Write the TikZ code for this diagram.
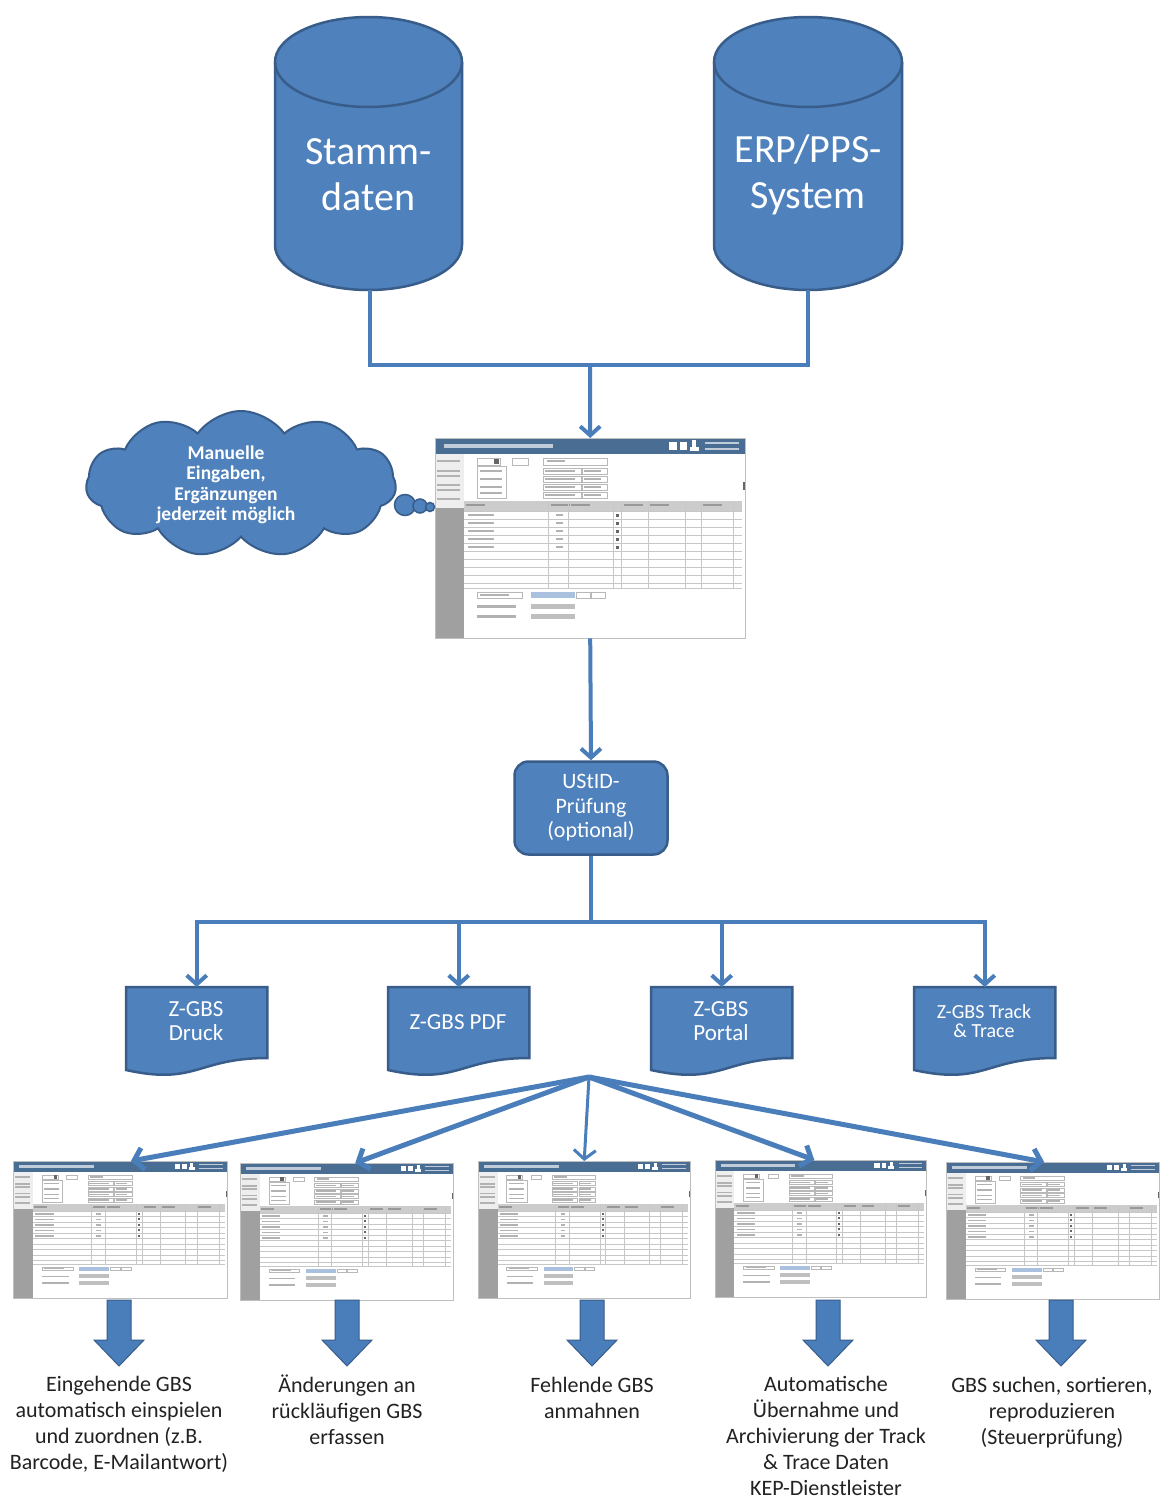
\documentclass[tikz,border=0pt]{standalone}
\usepackage{fontspec}
\setmainfont{Carlito}
\usetikzlibrary{arrows.meta,shapes.symbols,calc}
\definecolor{boxblue}{HTML}{4F81BD}
\definecolor{boxedge}{HTML}{385D8A}
\definecolor{linkblue}{HTML}{4A7EBB}
\definecolor{hdrblue}{HTML}{4A6D94}
\definecolor{sidegray}{HTML}{A0A0A0}
\definecolor{sidelight}{HTML}{EEEEEE}
\definecolor{txtgray}{HTML}{222222}
\definecolor{btnblue}{HTML}{A9C0DF}
\tikzset{
  conn/.style={draw=linkblue, line width=4pt},
  connarrow/.style={conn, -{Straight Barb[length=9pt,width=20pt]}},
  fanarrow/.style={draw=linkblue, line width=5pt, -{Straight Barb[length=9pt,width=22pt]}},
  cylstyle/.style={fill=boxblue, draw=boxedge, line width=2.5pt},
  cyltext/.style={text=white, font=\fontsize{40}{46}\selectfont, align=center},
  ustbox/.style={rectangle, rounded corners=14pt, fill=boxblue, draw=boxedge, line width=2.5pt,
     minimum width=153pt, minimum height=93pt, inner sep=0pt, text=white, align=center,
     font=\fontsize{22}{24.5}\selectfont},
  cloudstyle/.style={cloud, cloud puffs=11, cloud puff arc=110, aspect=2.1, fill=boxblue,
     draw=boxedge, line width=2pt, minimum width=310pt, minimum height=146pt, inner sep=0pt},
  bubble/.style={circle, fill=boxblue, draw=boxedge, line width=1.5pt, inner sep=0pt},
  cloudtext/.style={text=white, align=center, font=\bfseries\fontsize{19.5}{20.5}\selectfont},
  docnode/.style={rectangle, minimum height=85pt, inner sep=0pt},
  docstyle/.style={fill=boxblue, draw=boxedge, line width=2.5pt},
  doctext/.style={text=white, align=center, font=\fontsize{23}{23.5}\selectfont},
  doctextsmall/.style={text=white, align=center, font=\fontsize{20}{19}\selectfont},
  blockar/.style={fill=linkblue, draw=boxedge, line width=1pt},
  bottomtext/.style={text=txtgray, align=center, font=\fontsize{22}{26}\selectfont},
  shotnode/.style={rectangle, inner sep=0pt},
  shotborder/.style={draw=black!25, line width=0.6pt},
  fld/.style={draw=black!28, line width=0.35pt},
  txtbar/.style={fill=black!30},
  txtdark/.style={fill=black!60},
  mkgrid/.style={draw=black!22, line width=0.35pt},
  tblhead/.style={fill=black!20},
  btngray/.style={fill=black!25}
}
\newcommand\mockup[5]{%
  \node[shotnode, minimum width=#4pt, minimum height=#5pt, anchor=north west] (#1) at (#2,#3) {};
  \begin{scope}[shift={(#2,#3)}, x=#4pt, y=-#5pt]
    \fill[white] (0,0) rectangle (1,1);
    \fill[hdrblue] (0,0) rectangle (1,0.08);
    \fill[white!65!hdrblue] (0.03,0.032) rectangle (0.38,0.048);
    \fill[white] (0.755,0.022) rectangle (0.78,0.058);
    \fill[white] (0.79,0.022) rectangle (0.812,0.058);
    \fill[white] (0.822,0.045) rectangle (0.85,0.064);
    \fill[white] (0.829,0.012) rectangle (0.843,0.045);
    \fill[white!65!hdrblue] (0.87,0.02) rectangle (0.98,0.032);
    \fill[white!65!hdrblue] (0.87,0.048) rectangle (0.98,0.06);
    \fill[sidelight] (0,0.08) rectangle (0.092,0.35);
    \fill[sidegray] (0,0.35) rectangle (0.092,1);
    \foreach \vv in {0.11,0.16,0.185,0.23,0.255,0.3}
      \fill[txtbar] (0.008,\vv) rectangle (0.08,\vv+0.012);
    \draw[fld] (0.135,0.1) rectangle (0.21,0.135);
    \fill[txtdark] (0.19,0.105) rectangle (0.205,0.13);
    \draw[fld] (0.135,0.14) rectangle (0.23,0.3);
    \foreach \vv in {0.16,0.2,0.24,0.27}
      \fill[txtbar] (0.145,\vv) rectangle (0.215,\vv+0.01);
    \draw[fld] (0.25,0.1) rectangle (0.3,0.135);
    \draw[fld] (0.35,0.1) rectangle (0.555,0.135);
    \fill[txtbar] (0.36,0.112) rectangle (0.42,0.122);
    \foreach \vv in {0.15,0.19,0.23,0.27} {
      \draw[fld] (0.35,\vv) rectangle (0.47,\vv+0.03);
      \draw[fld] (0.475,\vv) rectangle (0.555,\vv+0.03);
      \fill[txtbar] (0.355,\vv+0.01) rectangle (0.45,\vv+0.02);
      \fill[txtbar] (0.48,\vv+0.01) rectangle (0.535,\vv+0.02);
    }
    \fill[tblhead] (0.092,0.315) rectangle (0.99,0.365);
    \foreach \uu in {0.1,0.375,0.44,0.61,0.695,0.865}
      \fill[black!40] (\uu,0.33) rectangle (\uu+0.06,0.342);
    \foreach \ii in {0,...,9}
      \draw[mkgrid] (0.092,0.365+\ii*0.04) -- (0.99,0.365+\ii*0.04);
    \foreach \uu in {0.366,0.43,0.575,0.602,0.688,0.806,0.86,0.962}
      \draw[mkgrid] (\uu,0.315) -- (\uu,0.75);
    \foreach \ii in {0,...,4} {
      \fill[txtbar] (0.105,0.38+\ii*0.04) rectangle (0.19,0.392+\ii*0.04);
      \fill[txtbar] (0.39,0.38+\ii*0.04) rectangle (0.412,0.392+\ii*0.04);
      \fill[txtdark] (0.583,0.378+\ii*0.04) rectangle (0.593,0.393+\ii*0.04);
    }
    \draw[mkgrid] (0.092,0.75) -- (0.99,0.75);
    \draw[fld] (0.135,0.772) rectangle (0.28,0.8);
    \fill[txtbar] (0.145,0.781) rectangle (0.24,0.791);
    \fill[btnblue] (0.31,0.772) rectangle (0.45,0.8);
    \draw[fld] (0.455,0.772) rectangle (0.5,0.8);
    \draw[fld] (0.505,0.772) rectangle (0.55,0.8);
    \fill[txtbar] (0.135,0.836) rectangle (0.26,0.848);
    \fill[btngray] (0.31,0.828) rectangle (0.45,0.856);
    \fill[txtbar] (0.135,0.886) rectangle (0.26,0.898);
    \fill[btngray] (0.31,0.878) rectangle (0.45,0.906);
    \fill[txtdark] (0.993,0.22) rectangle (1,0.26);
  \end{scope}
  \draw[shotborder] (#1.north west) rectangle (#1.south east);
}
\newcommand\docshape[4]{%
  \node[docnode, minimum width=#3pt, anchor=north west] (#1) at (#2,987) {};
  \filldraw[docstyle] (#1.north west) -- (#1.north east) -- ++(0,71)
    .. controls +(-#3/2,0) and +(#3/2,15.5) .. ($(#1.north west)+(0,83)$) -- cycle;
}
\newcommand\blockarrow[2]{%
  \coordinate (#1) at (#2,1300);
  \filldraw[blockar] ($(#1)+(-12,0)$) -- ++(24,0) -- ++(0,40) -- ++(13,0)
    -- ($(#1)+(0,66)$) -- ($(#1)+(-25,40)$) -- ++(13,0) -- cycle;
}
\begin{document}
\begin{tikzpicture}[x=1pt, y=-1pt]
\useasboundingbox (0,0) rectangle (1161,1499);
\fill[white] (0,0) rectangle (1161,1499);

% cylinders
\filldraw[cylstyle] (275,62) -- (275,245) arc[start angle=180, end angle=0, x radius=93.5, y radius=45]
  -- (462,62) arc[start angle=0, end angle=-180, x radius=93.5, y radius=45] -- cycle;
\draw[cylstyle, fill=none] (275,62) arc[start angle=180, end angle=0, x radius=93.5, y radius=45];
\node[cyltext] (stamm) at (368.5,175) {Stamm-\\daten};
\coordinate (stammB) at (370,290);

\filldraw[cylstyle] (714,62) -- (714,245) arc[start angle=180, end angle=0, x radius=94, y radius=45]
  -- (902,62) arc[start angle=0, end angle=-180, x radius=94, y radius=45] -- cycle;
\draw[cylstyle, fill=none] (714,62) arc[start angle=180, end angle=0, x radius=94, y radius=45];
\node[cyltext] (erp) at (808,175) {ERP/PPS-\\System};
\coordinate (erpB) at (808,290);

% main screenshot
\mockup{shot}{435}{438}{310}{200}

\coordinate (join) at (590,365);
\draw[conn] (stammB) |- (join) -| (erpB);
\draw[connarrow] (join) -- (shot.north);

% cloud
\node[cloudstyle] (cloud) at (241,484) {};
\node[bubble, minimum size=21pt] (b1) at (405,505) {};
\node[bubble, minimum size=14pt] (b2) at (420,506) {};
\node[bubble, minimum size=9pt] (b3) at (430,507) {};
\node[cloudtext] (cloudtxt) at (226,485) {Manuelle\\Eingaben,\\Ergänzungen\\jederzeit möglich};

% UStID
\node[ustbox] (ust) at (591,808) {UStID-\\Prüfung\\(optional)};
\draw[connarrow] (shot.south) -- (ust.north);

% documents
\docshape{druck}{126}{141}{}
\docshape{pdf}{388}{141}{}
\docshape{portal}{651}{141}{}
\docshape{track}{914}{141}{}
\node[doctext] (drucktxt) at ($(druck.north west)+(70,34)$) {Z-GBS\\Druck};
\node[doctext] (pdftxt) at ($(pdf.north west)+(70,35)$) {Z-GBS PDF};
\node[doctext] (portaltxt) at ($(portal.north west)+(70,34)$) {Z-GBS\\Portal};
\node[doctextsmall] (tracktxt) at ($(track.north west)+(70,34)$) {Z-GBS Track\\\& Trace};

\coordinate (bus) at (591,922);
\draw[conn] (ust.south) -- (bus);
\foreach \dd in {druck,pdf,portal,track}
  \draw[connarrow] (bus) -| (\dd.north);

% bottom screenshots
\mockup{s1}{13}{1161}{214}{137}
\mockup{s2}{240}{1163}{213}{137}
\mockup{s3}{478}{1161}{212}{137}
\mockup{s4}{715}{1160}{211}{137}
\mockup{s5}{946}{1162}{213}{137}

\coordinate (fan) at (589,1077);
\draw[fanarrow] (fan) -- ($(s1.north west)!0.55!(s1.north east)$);
\draw[fanarrow] (fan) -- ($(s2.north west)!0.54!(s2.north east)$);
\draw[fanarrow, line width=3pt] (fan) -- ($(s3.north west)!0.5!(s3.north east)$);
\draw[fanarrow] (fan) -- ($(s4.north west)!0.47!(s4.north east)$);
\draw[fanarrow] (fan) -- ($(s5.north west)!0.46!(s5.north east)$);

% block arrows
\blockarrow{a1}{119}
\blockarrow{a2}{347}
\blockarrow{a3}{592}
\blockarrow{a4}{828}
\blockarrow{a5}{1061}

% bottom texts
\node[bottomtext] (t1) at (119,1424) {Eingehende GBS\\automatisch einspielen\\und zuordnen (z.B.\\Barcode, E-Mailantwort)};
\node[bottomtext] (t2) at (347,1410) {Änderungen an\\rückläufigen GBS\\erfassen};
\node[bottomtext] (t3) at (592,1398) {Fehlende GBS\\anmahnen};
\node[bottomtext] (t4) at (826,1436) {Automatische\\Übernahme und\\Archivierung der Track\\\& Trace Daten\\KEP-Dienstleister};
\node[bottomtext] (t5) at (1052,1413) {GBS suchen, sortieren,\\reproduzieren\\(Steuerprüfung)};
\end{tikzpicture}
\end{document}
